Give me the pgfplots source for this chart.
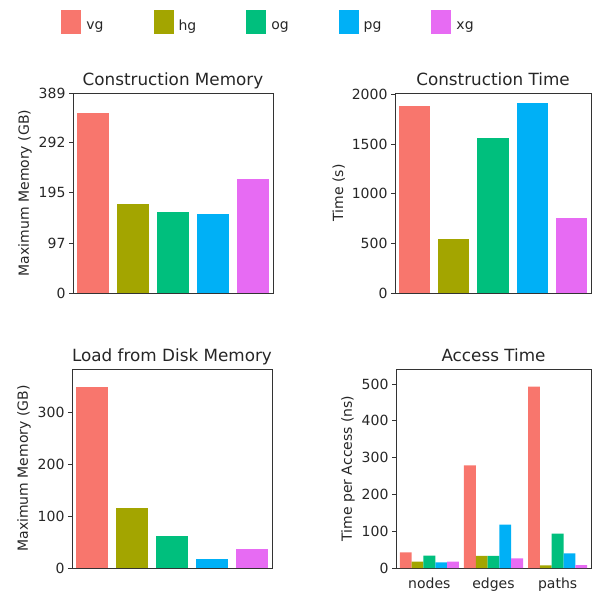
\documentclass[border=0pt]{standalone}
\usepackage{pgfplots}
\pgfplotsset{compat=1.18}
\usepackage{fontspec}
\setmainfont{DejaVu Sans}
\definecolor{cvg}{HTML}{F8766D}
\definecolor{chg}{HTML}{A3A500}
\definecolor{cog}{HTML}{00BF7D}
\definecolor{cpg}{HTML}{00B0F6}
\definecolor{cxg}{HTML}{E76BF3}
\pgfplotsset{
  base/.style={
    scale only axis,
    axis line style={color=black!80, line width=0.8pt},
    tick style={color=black!80, line width=0.8pt},
    tick align=outside, major tick length=4pt,
    ytick pos=left, xtick=\empty, ymin=0,
    ticklabel style={font=\fontsize{14}{16}\selectfont, text=black!85},
    label style={font=\fontsize{14}{16}\selectfont, text=black!85},
    title style={font=\fontsize{16.8}{19}\selectfont, text=black!85, at={(0.5,1)}, anchor=base, yshift=1.5pt},
    /pgf/number format/assume math mode=true,
    /pgf/number format/1000 sep={},
    ybar, bar width=0.8,
    xmin=-0.5, xmax=4.5,
    every axis plot/.append style={draw=none, bar shift=0pt},
  },
}
\begin{document}
\begin{tikzpicture}
% Construction Memory
\begin{axis}[base, at={(73pt,299pt)}, anchor=south west, width=200pt, height=200pt,
  title={Construction Memory}, ylabel={Maximum Memory (GB)},
  ymax=389, ytick={0,97,195,292,389},
  legend columns=5,
  legend image code/.code={\fill[#1] (0pt,-8pt) rectangle (20pt,16pt);},
  legend style={at={(0.9725,1.355)}, anchor=center, draw=none, fill=none,
    font=\fontsize{14}{16}\selectfont, text=black!85, nodes={inner sep=0pt},
    /tikz/every odd column/.append style={column sep=5pt},
    /tikz/every even column/.append style={column sep=50pt}},
]
\addplot[fill=cvg] coordinates {(0,351)}; \addlegendentry{vg}
\addplot[fill=chg] coordinates {(1,173)}; \addlegendentry{hg}
\addplot[fill=cog] coordinates {(2,157.5)}; \addlegendentry{og}
\addplot[fill=cpg] coordinates {(3,154)}; \addlegendentry{pg}
\addplot[fill=cxg] coordinates {(4,221)}; \addlegendentry{xg}
\end{axis}
% Construction Time
\begin{axis}[base, at={(395pt,299pt)}, anchor=south west, width=196pt, height=200pt,
  title={Construction Time}, ylabel={Time (s)},
  ymax=2015, ytick={0,500,1000,1500,2000},
]
\addplot[fill=cvg] coordinates {(0,1882)};
\addplot[fill=chg] coordinates {(1,546)};
\addplot[fill=cog] coordinates {(2,1558)};
\addplot[fill=cpg] coordinates {(3,1916)};
\addplot[fill=cxg] coordinates {(4,756)};
\end{axis}
% Load from Disk Memory
\begin{axis}[base, at={(72pt,24pt)}, anchor=south west, width=200pt, height=199pt,
  title={Load from Disk Memory}, ylabel={Maximum Memory (GB)},
  ymax=383, ytick={0,100,200,300},
]
\addplot[fill=cvg] coordinates {(0,348)};
\addplot[fill=chg] coordinates {(1,114.6)};
\addplot[fill=cog] coordinates {(2,61)};
\addplot[fill=cpg] coordinates {(3,18)};
\addplot[fill=cxg] coordinates {(4,37.5)};
\end{axis}
% Access Time
\begin{axis}[base, at={(396pt,24pt)}, anchor=south west, width=195pt, height=199pt,
  title={Access Time}, ylabel={Time per Access (ns)},
  ymax=541, ytick={0,100,200,300,400,500},
  xmin=-0.52, xmax=2.52, bar width=0.184,
  xtick={0,1,2}, xticklabels={nodes,edges,paths}, xtick style={draw=none},
  xticklabel style={yshift=-2pt},
]
\addplot[fill=cvg, bar shift=-0.368] coordinates {(0,42.7) (1,279) (2,493)};
\addplot[fill=chg, bar shift=-0.184] coordinates {(0,17) (1,32.7) (2,7)};
\addplot[fill=cog, bar shift=0] coordinates {(0,33.6) (1,32.7) (2,93.6)};
\addplot[fill=cpg, bar shift=0.184] coordinates {(0,15.5) (1,118) (2,40)};
\addplot[fill=cxg, bar shift=0.368] coordinates {(0,17) (1,26) (2,8)};
\end{axis}
\pgfresetboundingbox
\path[use as bounding box] (0pt,0pt) rectangle (592pt,592pt);
\end{tikzpicture}
\end{document}
